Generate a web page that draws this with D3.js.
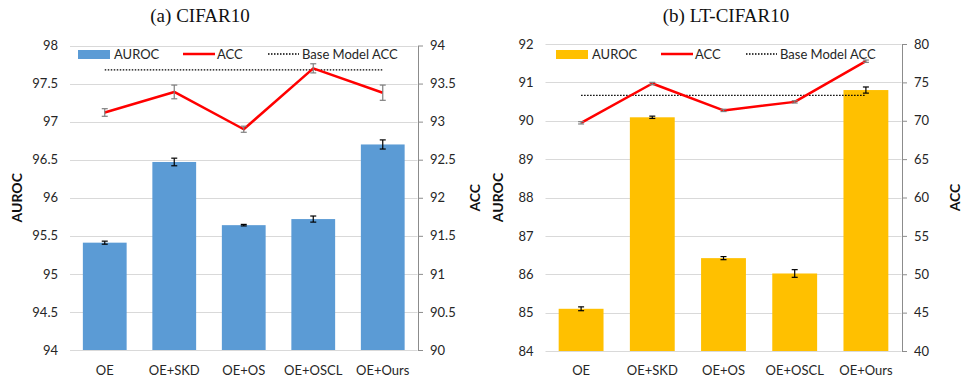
<!DOCTYPE html>
<html>
<head>
<meta charset="utf-8">
<script src="https://cdn.jsdelivr.net/npm/d3@7"></script>
<style>
  body { margin: 0; background: #fff; }
  text { font-family: Lato, "Open Sans", sans-serif; }
</style>
</head>
<body>
<div id="chart"></div>
<script>
// categories shared by both panels
const methods = ["OE", "OE+SKD", "OE+OS", "OE+OSCL", "OE+Ours"];

// (a) CIFAR10
const cifarAuroc = [95.41, 96.47, 95.64, 95.72, 96.70];
const cifarAurocErr = [0.02, 0.05, 0.01, 0.04, 0.06];
const cifarAcc = [93.12, 93.39, 92.90, 93.70, 93.38];
const cifarAccErr = [0.05, 0.09, 0.04, 0.06, 0.10];
const cifarBaseAcc = 93.68;
const cifarLeftTicks = [94, 94.5, 95, 95.5, 96, 96.5, 97, 97.5, 98];
const cifarRightTicks = [90, 90.5, 91, 91.5, 92, 92.5, 93, 93.5, 94];

// (b) LT-CIFAR10
const ltAuroc = [85.10, 90.09, 86.42, 86.02, 90.80];
const ltAurocErr = [0.05, 0.03, 0.04, 0.10, 0.08];
const ltAcc = [69.73, 74.85, 71.35, 72.46, 77.76];
const ltAccErr = [0.15, 0.15, 0.15, 0.15, 0.15];
const ltBaseAcc = 73.3;
const ltLeftTicks = [84, 85, 86, 87, 88, 89, 90, 91, 92];
const ltRightTicks = [40, 45, 50, 55, 60, 65, 70, 75, 80];

const svg = d3.select("#chart")
  .append("svg")
  .attr("width", 963)
  .attr("height", 381);

function drawPanel(p) {
  const g = svg.append("g");

  const x = d3.scaleBand()
    .domain(methods)
    .range([p.x0, p.x1])
    .paddingInner(0.37)
    .paddingOuter(0.185);

  const yL = d3.scaleLinear()
    .domain(d3.extent(p.leftTicks))
    .range([p.yBottom, p.yTop]);
  const yR = d3.scaleLinear()
    .domain(d3.extent(p.rightTicks))
    .range([p.yBottom, p.yTop]);

  // title
  g.append("text")
    .attr("x", p.titleX)
    .attr("y", 22)
    .attr("text-anchor", "middle")
    .style("font-family", "'Liberation Serif', 'Times New Roman', serif")
    .style("font-size", "19px")
    .style("fill", "#111")
    .text(p.title);

  // gridlines
  g.append("g")
    .selectAll("line")
    .data(p.leftTicks)
    .join("line")
    .attr("x1", p.x0)
    .attr("x2", p.x1)
    .attr("y1", d => Math.round(yL(d)) + 0.5)
    .attr("y2", d => Math.round(yL(d)) + 0.5)
    .attr("stroke", "#d9d9d9")
    .attr("stroke-width", 1);

  // left axis (labels only)
  const leftAxis = g.append("g")
    .attr("transform", `translate(${p.x0},0)`)
    .call(d3.axisLeft(yL).tickValues(p.leftTicks).tickSize(0).tickPadding(12).tickFormat(d3.format("")));
  leftAxis.select(".domain").remove();
  leftAxis.selectAll("text").style("font-size", "13px").style("fill", "#262626").style("font-family", "Lato, sans-serif");

  // right axis
  const rightAxis = g.append("g")
    .attr("transform", `translate(${p.x1 + 0.5},0)`)
    .call(d3.axisRight(yR).tickValues(p.rightTicks).tickSize(5).tickSizeOuter(0).tickPadding(7).tickFormat(d3.format("")));
  rightAxis.select(".domain").attr("stroke", "#8c8c8c");
  rightAxis.selectAll(".tick line").attr("stroke", "#8c8c8c");
  rightAxis.selectAll("text").style("font-size", "13px").style("fill", "#262626").style("font-family", "Lato, sans-serif");

  // bars
  g.append("g")
    .selectAll("rect")
    .data(p.auroc)
    .join("rect")
    .attr("x", (d, i) => x(methods[i]))
    .attr("y", d => yL(d))
    .attr("width", x.bandwidth())
    .attr("height", d => yL(yL.domain()[0]) - yL(d))
    .attr("fill", p.barColor);

  // bar error bars
  const cx = i => x(methods[i]) + x.bandwidth() / 2;
  drawErr(g, p.auroc, p.aurocErr, yL, cx, "#000");

  // base model dotted line
  g.append("line")
    .attr("x1", cx(0))
    .attr("x2", cx(methods.length - 1))
    .attr("y1", yR(p.baseAcc))
    .attr("y2", yR(p.baseAcc))
    .attr("stroke", "#000")
    .attr("stroke-width", 1.3)
    .attr("stroke-dasharray", "1.5,1.5");

  // ACC line
  g.append("path")
    .datum(p.acc)
    .attr("fill", "none")
    .attr("stroke", "#ff0000")
    .attr("stroke-width", 2.5)
    .attr("stroke-linejoin", "round")
    .attr("d", d3.line().x((d, i) => cx(i)).y(d => yR(d)));

  drawErr(g, p.acc, p.accErr, yR, cx, "#7f7f7f");

  // axis titles
  g.append("text")
    .attr("transform", `translate(${p.leftTitleX},${(p.yTop + p.yBottom) / 2}) rotate(-90)`)
    .attr("text-anchor", "middle")
    .style("font-size", "14px")
    .style("font-weight", "bold")
    .style("fill", "#111")
    .text("AUROC");
  g.append("text")
    .attr("transform", `translate(${p.rightTitleX},${(p.yTop + p.yBottom) / 2}) rotate(-90)`)
    .attr("text-anchor", "middle")
    .style("font-size", "14px")
    .style("font-weight", "bold")
    .style("fill", "#111")
    .text("ACC");

  // category labels
  g.append("g")
    .selectAll("text")
    .data(methods)
    .join("text")
    .attr("x", (d, i) => cx(i))
    .attr("y", 375)
    .attr("text-anchor", "middle")
    .style("font-size", "13px")
    .style("fill", "#262626")
    .text(d => d);

  // legend
  const ly = 54;
  const lg = g.append("g").attr("transform", `translate(${p.legendX},${ly})`);
  lg.append("rect").attr("x", 0).attr("y", -4).attr("width", 32).attr("height", 9).attr("fill", p.barColor);
  lg.append("text").attr("x", 36).attr("y", 4.5).style("font-size", "13px").style("fill", "#262626").text("AUROC");
  lg.append("line").attr("x1", 105).attr("x2", 137).attr("y1", 0).attr("y2", 0)
    .attr("stroke", "#ff0000").attr("stroke-width", 2.5);
  lg.append("text").attr("x", 139).attr("y", 4.5).style("font-size", "13px").style("fill", "#262626").text("ACC");
  lg.append("line").attr("x1", 190).attr("x2", 221).attr("y1", 0).attr("y2", 0)
    .attr("stroke", "#000").attr("stroke-width", 1.3).attr("stroke-dasharray", "1.5,1.5");
  lg.append("text").attr("x", 224).attr("y", 4.5).style("font-size", "13px").style("fill", "#262626").text("Base Model ACC");
}

function drawErr(g, vals, errs, y, cx, color) {
  const eg = g.append("g").attr("stroke", color).attr("stroke-width", 1.2);
  vals.forEach((v, i) => {
    eg.append("line").attr("x1", cx(i)).attr("x2", cx(i))
      .attr("y1", y(v - errs[i])).attr("y2", y(v + errs[i]));
    [v - errs[i], v + errs[i]].forEach(e => {
      eg.append("line").attr("x1", cx(i) - 3).attr("x2", cx(i) + 3)
        .attr("y1", y(e)).attr("y2", y(e));
    });
  });
}

drawPanel({
  title: "(a) CIFAR10", titleX: 200,
  x0: 70, x1: 417.5, yTop: 45.5, yBottom: 350,
  leftTicks: cifarLeftTicks, rightTicks: cifarRightTicks,
  auroc: cifarAuroc, aurocErr: cifarAurocErr,
  acc: cifarAcc, accErr: cifarAccErr, baseAcc: cifarBaseAcc,
  barColor: "#5b9bd5", leftTitleX: 22, rightTitleX: 480, legendX: 78
});

drawPanel({
  title: "(b) LT-CIFAR10", titleX: 726,
  x0: 545.5, x1: 901.5, yTop: 44, yBottom: 351,
  leftTicks: ltLeftTicks, rightTicks: ltRightTicks,
  auroc: ltAuroc, aurocErr: ltAurocErr,
  acc: ltAcc, accErr: ltAccErr, baseAcc: ltBaseAcc,
  barColor: "#ffc000", leftTitleX: 503, rightTitleX: 960, legendX: 556
});
</script>
</body>
</html>
